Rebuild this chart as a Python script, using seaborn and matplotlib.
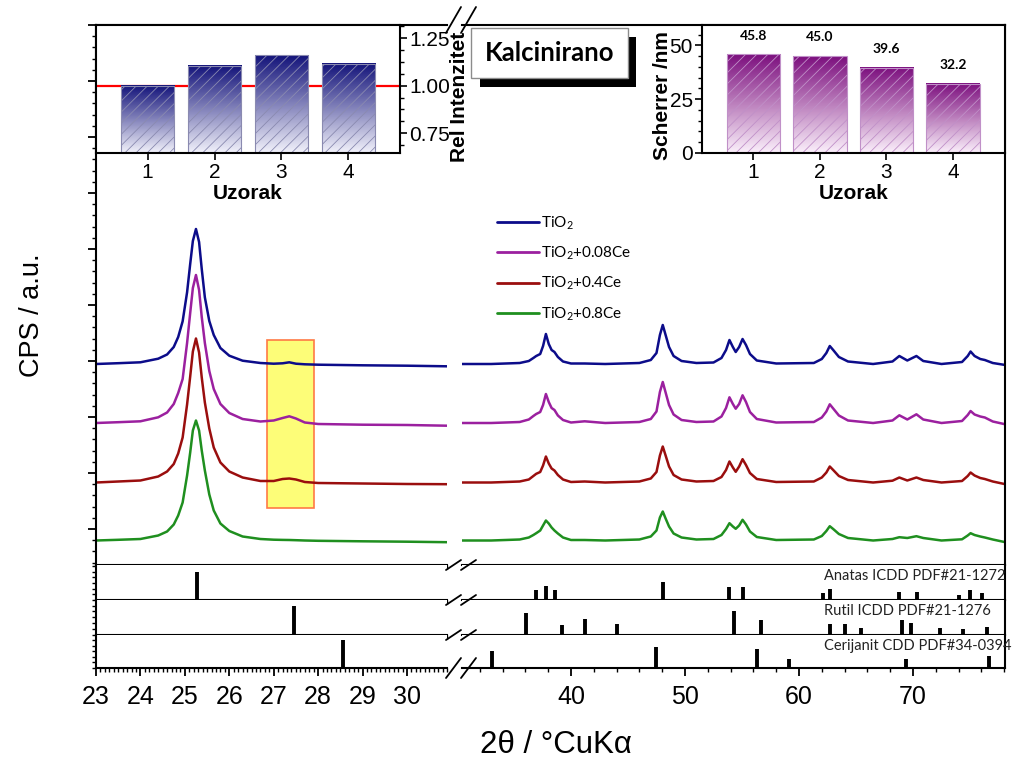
import numpy as np
import matplotlib
matplotlib.use("Agg")
import matplotlib.pyplot as plt
import seaborn as sns
from matplotlib.colors import LinearSegmentedColormap
from matplotlib.lines import Line2D
from matplotlib.patches import Rectangle
from matplotlib.ticker import MultipleLocator, FixedLocator, AutoMinorLocator

sns.set_theme(style="ticks")
plt.rcParams["font.family"] = ["Liberation Sans", "DejaVu Sans"]
plt.rcParams["mathtext.default"] = "regular"
plt.rcParams["hatch.linewidth"] = 0.6
for k in ["text.color", "axes.labelcolor", "xtick.color", "ytick.color", "axes.edgecolor"]:
    plt.rcParams[k] = "black"

W, H = 1015, 762

# Inset data
samples = ["1", "2", "3", "4"]
rel_intensity = [1.00, 1.105, 1.16, 1.115]
scherrer_nm = [45.8, 45.0, 39.6, 32.2]

# XRD patterns (counts above baseline, a.u.)
labels = ["TiO$_2$", "TiO$_2$+0.08Ce", "TiO$_2$+0.4Ce", "TiO$_2$+0.8Ce"]
colors = ["#0c0c8a", "#9b209f", "#9a0e0e", "#1f8f1f"]
offsets = [2010, 1420, 825, 245]

x_left = [23.0, 23.5, 24.0, 24.4, 24.6, 24.75, 24.85, 24.95, 25.05, 25.12,
          25.18, 25.25, 25.32, 25.38, 25.45, 25.55, 25.65, 25.8, 26.0, 26.3,
          26.7, 27.0, 27.2, 27.35, 27.5, 27.7, 28.0, 29.0, 30.0, 30.9]
left_tio2 = [0, 8, 17, 53, 95, 170, 270, 427, 717, 1000,
             1230, 1350, 1220, 950, 667, 430, 290, 160, 83, 33,
             10, 3, 7, 17, 3, -3, -7, -13, -17, -23]
left_008ce = [0, 8, 17, 57, 105, 190, 300, 440, 800, 1100,
              1350, 1480, 1330, 1060, 800, 520, 340, 190, 100, 40,
              15, 25, 50, 67, 45, 5, -10, -17, -20, -27]
left_04ce = [0, 10, 20, 60, 110, 185, 290, 450, 780, 1060,
             1310, 1440, 1300, 1050, 800, 540, 350, 200, 110, 50,
             15, 15, 35, 40, 30, 5, -5, -10, -15, -17]
left_08ce = [0, 7, 15, 50, 90, 160, 250, 380, 650, 880,
             1100, 1200, 1100, 900, 700, 460, 300, 170, 95, 40,
             15, 8, 6, 5, 3, 0, -3, -8, -12, -17]

x_right = [30.4, 33.0, 35.5, 36.3, 36.7, 36.95, 37.3, 37.55, 37.8, 38.05,
           38.3, 38.55, 38.85, 39.3, 40.0, 41.2, 43.0, 46.0, 47.0, 47.5,
           47.8, 48.05, 48.3, 48.6, 49.0, 49.7, 51.0, 52.5, 53.2, 53.6,
           53.9, 54.2, 54.45, 54.75, 55.05, 55.35, 55.7, 56.3, 58.0, 61.3,
           62.0, 62.4, 62.7, 63.0, 63.5, 64.3, 66.5, 68.2, 68.8, 69.5,
           70.3, 70.9, 72.5, 74.3, 74.8, 75.05, 75.4, 75.9, 76.3, 77.0, 78.1]
right_tio2 = [0, 0, 10, 30, 60, 80, 100, 180, 300, 200,
              140, 120, 70, 25, 5, 5, 0, 10, 40, 110,
              290, 390, 290, 170, 80, 30, 10, 15, 60, 140,
              240, 170, 120, 170, 250, 190, 100, 35, 5, 10,
              50, 110, 180, 140, 70, 25, 0, 25, 80, 35,
              80, 30, 0, 20, 80, 125, 80, 50, 40, 10, -10]
right_008ce = [0, 0, 10, 35, 70, 90, 110, 180, 290, 210,
               150, 130, 75, 30, 5, 17, 0, 10, 40, 115,
               310, 410, 305, 180, 85, 30, 10, 15, 65, 150,
               257, 190, 143, 190, 277, 210, 110, 40, 5, 10,
               55, 115, 187, 145, 75, 25, 0, 25, 77, 35,
               87, 35, 0, 20, 80, 120, 85, 65, 55, 15, -13]
right_04ce = [0, 0, 10, 30, 65, 87, 105, 170, 260, 190,
              140, 120, 75, 30, 5, 10, 0, 10, 40, 105,
              270, 360, 270, 160, 75, 30, 10, 15, 55, 125,
              210, 150, 107, 160, 233, 175, 95, 35, 5, 10,
              50, 100, 160, 125, 65, 25, 0, 18, 50, 20,
              50, 25, 0, 15, 65, 100, 70, 45, 35, 10, -17]
right_08ce = [0, 0, 10, 30, 55, 73, 100, 150, 200, 170,
              130, 100, 70, 30, 5, 5, 0, 10, 40, 100,
              230, 290, 220, 140, 70, 30, 10, 15, 55, 115,
              173, 140, 117, 150, 207, 160, 90, 35, 5, 10,
              45, 95, 143, 115, 65, 25, 0, 15, 33, 25,
              43, 25, 0, 12, 50, 73, 55, 40, 30, 10, -17]
left_series = [left_tio2, left_008ce, left_04ce, left_08ce]
right_series = [right_tio2, right_008ce, right_04ce, right_08ce]

# Reference patterns (relative intensity)
anatase_pos = [25.28, 36.95, 37.80, 38.58, 48.05, 53.89, 55.06, 62.12, 62.69, 68.76, 70.31, 74.03, 75.03, 76.02]
anatase_int = [100, 35, 49, 35, 62, 47, 47, 24, 39, 27, 27, 18, 35, 24]
rutile_pos = [27.45, 36.09, 39.19, 41.23, 44.05, 54.32, 56.64, 62.74, 64.04, 65.48, 69.01, 69.79, 72.41, 74.41, 76.51]
rutile_int = [100, 74, 34, 55, 36, 80, 51, 36, 37, 23, 51, 42, 23, 19, 26]
ceria_pos = [28.55, 33.08, 47.48, 56.34, 59.09, 69.40, 76.70]
ceria_int = [100, 59, 74, 67, 33, 33, 44]
ref_names = ["Anatas ICDD PDF#21-1272", "Rutil ICDD PDF#21-1276", "Cerijanit CDD PDF#34-0394"]
ref_pos = [anatase_pos, rutile_pos, ceria_pos]
ref_int = [anatase_int, rutile_int, ceria_int]
ref_top = [123.5, 119, 117.6]


def box(l, t, r, b):
    return [l / W, 1 - b / H, (r - l) / W, (b - t) / H]


def spines(ax, left=False, right=False, top=False, bottom=False):
    for name, vis in zip(["left", "right", "top", "bottom"], [left, right, top, bottom]):
        ax.spines[name].set_visible(vis)
        ax.spines[name].set_linewidth(1.5)
        ax.spines[name].set_color("black")


def xticks(ax, major, minor, labels_on):
    ax.xaxis.set_major_locator(MultipleLocator(major))
    ax.xaxis.set_minor_locator(MultipleLocator(minor))
    ax.tick_params(axis="x", which="major", direction="out", length=6, width=1.3,
                   bottom=True, top=False, labelbottom=labels_on, labelsize=18, pad=6)
    ax.tick_params(axis="x", which="minor", direction="out", length=3, width=1,
                   bottom=True, top=False)


def gradient_bars(ax, light, dark, hatch_color):
    lo = max(ax.get_ylim()[0], 0)
    xl, yl = ax.get_xlim(), ax.get_ylim()
    cmap = LinearSegmentedColormap.from_list("grad", [light, dark])
    for bar in ax.patches:
        x0, w, top = bar.get_x(), bar.get_width(), bar.get_height()
        ax.imshow(np.linspace(0, 1, 256).reshape(-1, 1), extent=[x0, x0 + w, lo, top],
                  origin="lower", aspect="auto", cmap=cmap, zorder=1)
        bar.set_facecolor("none")
        bar.set_edgecolor(hatch_color)
        bar.set_hatch("///")
        bar.set_linewidth(0.8)
        bar.set_zorder(2)
    ax.set_xlim(xl)
    ax.set_ylim(yl)


fig = plt.figure(figsize=(W / 100, H / 100), dpi=100)

axL = fig.add_axes(box(96, 25, 447, 565))
axR = fig.add_axes(box(462, 25, 1005, 565))
rows = [(565, 600), (600, 635), (635, 668)]
stL = [fig.add_axes(box(96, t, 447, b)) for t, b in rows]
stR = [fig.add_axes(box(462, t, 1005, b)) for t, b in rows]

# Main XRD curves
for lab, col, off, yl, yr in zip(labels, colors, offsets, left_series, right_series):
    sns.lineplot(x=x_left, y=np.array(yl) + off, ax=axL, color=col, lw=1.8,
                 estimator=None, sort=False)
    sns.lineplot(x=x_right, y=np.array(yr) + off, ax=axR, color=col, lw=1.8,
                 estimator=None, sort=False, label=lab)

axL.add_patch(Rectangle((26.85, 570), 1.06, 1680, facecolor="#fdfd78",
                        edgecolor="#ff7a45", lw=1.2, zorder=0.5))

for ax in (axL, axR):
    ax.set_ylim(0, 5400)
    ax.set(xlabel="", ylabel="")
axL.set_xlim(23, 30.9)
axR.set_xlim(30.44, 78.07)

spines(axL, left=True, top=True, bottom=True)
spines(axR, right=True, top=True, bottom=True)
xticks(axL, 1, 0.1, False)
xticks(axR, 10, 2, False)
axL.yaxis.set_major_locator(FixedLocator(np.arange(360, 5401, 560)))
axL.yaxis.set_minor_locator(FixedLocator(np.arange(24, 5401, 112)))
axL.tick_params(axis="y", which="major", direction="out", length=6, width=1.3,
                left=True, labelleft=False)
axL.tick_params(axis="y", which="minor", direction="out", length=3, width=1, left=True)
axR.tick_params(axis="y", which="both", left=False, right=False, labelleft=False)

leg = axR.legend(loc="upper left", bbox_to_anchor=(0.04, 0.675), frameon=False,
                 prop={"family": "Lato", "size": 11}, handlelength=2.7,
                 labelspacing=0.85, handletextpad=0.15)
for line in leg.get_lines():
    line.set_linewidth(2)

# Reference stick patterns
for i in range(3):
    for ax in (stL[i], stR[i]):
        ax.vlines(ref_pos[i], 0, ref_int[i], color="black", lw=2.8)
        ax.set_ylim(0, ref_top[i])
    stL[i].set_xlim(23, 30.9)
    stR[i].set_xlim(30.44, 78.07)
    last = i == 2
    spines(stL[i], left=True, bottom=True)
    spines(stR[i], right=True, bottom=True)
    xticks(stL[i], 1, 0.1, last)
    xticks(stR[i], 10, 2, last)
    stL[i].yaxis.set_major_locator(MultipleLocator(20))
    stL[i].tick_params(axis="y", which="major", direction="out", length=3, width=1,
                       left=True, labelleft=False)
    stR[i].tick_params(axis="y", which="both", left=False, right=False, labelleft=False)
    stR[i].text(0.666, 0.68, ref_names[i], transform=stR[i].transAxes, ha="left",
                va="center", family="Lato", fontsize=10.5, color="#222222")

# Inset: relative intensity
inL = fig.add_axes(box(96, 25, 400, 153))
sns.barplot(x=samples, y=rel_intensity, ax=inL, width=0.8, errorbar=None, color="navy")
inL.set_xlim(-0.77, 3.77)
inL.set_ylim(0.645, 1.32)
inL.axhline(1.0, color="red", lw=1.6, zorder=0.5)
gradient_bars(inL, "#f2f2fb", "#13137a", "#8a8ab0")
spines(inL, left=True, right=True, top=True, bottom=True)
inL.yaxis.tick_right()
inL.yaxis.set_label_position("right")
inL.yaxis.set_major_locator(FixedLocator([0.75, 1.00, 1.25]))
inL.yaxis.set_minor_locator(AutoMinorLocator(4))
inL.yaxis.set_major_formatter("{x:.2f}")
inL.tick_params(axis="y", which="major", direction="out", length=5, width=1.2,
                right=True, left=False, labelright=True, labelleft=False, labelsize=15, pad=1.5)
inL.tick_params(axis="y", which="minor", direction="out", length=3, width=1, right=True, left=False)
inL.tick_params(axis="x", direction="out", length=5, width=1.2, bottom=True, labelsize=15, pad=2)
inL.set_ylabel("Rel Intenzitet", fontsize=15, fontweight="bold")
inL.yaxis.set_label_coords(1.165, 0.44)
inL.set_xlabel("Uzorak", fontsize=15, fontweight="bold")
inL.xaxis.set_label_coords(0.5, -0.245)

# Inset: Scherrer crystallite size
inR = fig.add_axes(box(702, 25, 1005, 153))
sns.barplot(x=samples, y=scherrer_nm, ax=inR, width=0.8, errorbar=None, color="purple")
inR.set_xlim(-0.77, 3.78)
inR.set_ylim(0, 59.5)
gradient_bars(inR, "#fbf0fb", "#7c0f7e", "#c090c8")
spines(inR, left=True, right=True, top=True, bottom=True)
inR.yaxis.set_major_locator(FixedLocator([0, 25, 50]))
inR.yaxis.set_minor_locator(AutoMinorLocator(5))
inR.tick_params(axis="y", which="major", direction="out", length=5, width=1.2,
                left=True, labelsize=15, pad=1.5)
inR.tick_params(axis="y", which="minor", direction="out", length=3, width=1, left=True)
inR.tick_params(axis="x", direction="out", length=5, width=1.2, bottom=True, labelsize=15, pad=2)
inR.set_ylabel("Scherrer /nm", fontsize=15, fontweight="bold")
inR.yaxis.set_label_coords(-0.10, 0.45)
inR.set_xlabel("Uzorak", fontsize=15, fontweight="bold")
inR.xaxis.set_label_coords(0.5, -0.245)
for bar, val in zip(inR.patches, scherrer_nm):
    inR.annotate(f"{val:.1f}", (bar.get_x() + bar.get_width() / 2, bar.get_height()),
                 xytext=(0, 13.5), textcoords="offset points", ha="center", va="center",
                 family="Lato", fontweight="bold", fontsize=10)

# "Kalcinirano" box with shadow
fig.add_artist(Rectangle((480 / W, 1 - 87 / H), 156 / W, 50 / H, transform=fig.transFigure,
                         facecolor="black", edgecolor="none", zorder=5))
fig.add_artist(Rectangle((471 / W, 1 - 78 / H), 157 / W, 50 / H, transform=fig.transFigure,
                         facecolor="white", edgecolor="#8c8c8c", lw=1, zorder=6))
fig.text(549.5 / W, 1 - 53 / H, "Kalcinirano", ha="center", va="center", family="Lato",
         fontweight="bold", fontsize=18.5, zorder=7)

# Axis-break marks
for yc, h in [(20, 13), (565, 5), (600, 5), (635, 5), (668, 10)]:
    for x0 in (446, 461):
        fig.add_artist(Line2D([x0 / W, (x0 + 15) / W], [1 - (yc + h) / H, 1 - (yc - h) / H],
                              transform=fig.transFigure, color="black", lw=1.3, zorder=8))

fig.text(32 / W, 1 - 315 / H, "CPS / a.u.", rotation=90, ha="center", va="center", fontsize=19.5)
fig.text(556 / W, 1 - 745 / H, "2θ / °CuKα", ha="center", va="center", fontsize=22.5)

fig.savefig("out.png", dpi=100)
